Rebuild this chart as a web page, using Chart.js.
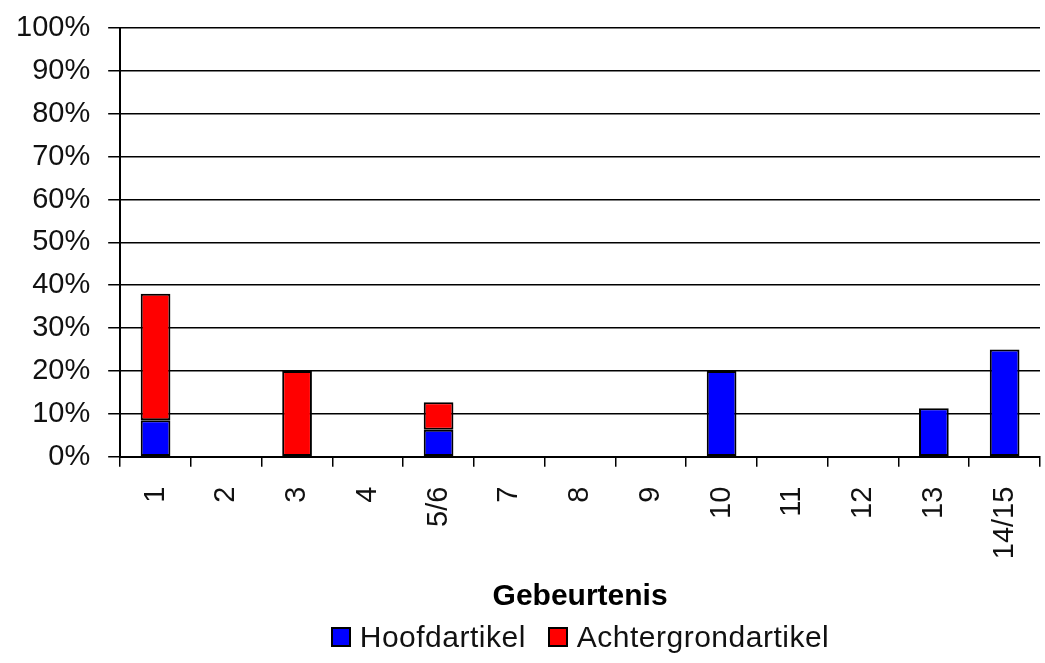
<!DOCTYPE html>
<html>
<head>
<meta charset="utf-8">
<script src="https://cdn.jsdelivr.net/npm/chart.js"></script>
<style>
  html, body { margin: 0; padding: 0; background: #fff; }
  .wrap { position: relative; width: 1045px; height: 663px; }
  #legend {
    position: absolute; left: 120px; width: 920px; top: 620px;
    display: flex; justify-content: center; align-items: center;
    font-family: "Liberation Sans", Arial, sans-serif; font-size: 30px; color: #111;
    letter-spacing: 0.5px;
  }
  #legend span.item { display: flex; align-items: center; margin: 0 11px; }
  #legend span.box { width: 16px; height: 16px; border: 2px solid #000; margin-right: 9px; }
</style>
</head>
<body>
<div class="wrap">
  <canvas id="chart" width="1045" height="663"></canvas>
  <div id="legend"></div>
</div>
<script>
const categories = ['1', '2', '3', '4', '5/6', '7', '8', '9', '10', '11', '12', '13', '14/15'];
const hoofdartikel = [8.5, null, null, null, 6.3, null, null, null, 20, null, null, 11.3, 25];
const achtergrondartikel = [29.5, null, 20, null, 6.4, null, null, null, null, null, null, null, null];
const seriesNames = ['Hoofdartikel', 'Achtergrondartikel'];
const seriesColors = ['#0000ff', '#ff0000'];

const font = "'Liberation Sans', Arial, sans-serif";

const ctx = document.getElementById('chart').getContext('2d');
const chart = new Chart(ctx, {
  type: 'bar',
  data: {
    labels: categories,
    datasets: [
      {
        label: seriesNames[0],
        data: hoofdartikel,
        backgroundColor: seriesColors[0],
        borderColor: '#000',
        borderWidth: 2,
        borderSkipped: false,
        barPercentage: 0.42,
        categoryPercentage: 1,
      },
      {
        label: seriesNames[1],
        data: achtergrondartikel,
        backgroundColor: seriesColors[1],
        borderColor: '#000',
        borderWidth: 2,
        borderSkipped: false,
        barPercentage: 0.42,
        categoryPercentage: 1,
      },
    ],
  },
  options: {
    responsive: false,
    animation: false,
    layout: {
      padding: { left: -2, right: 5, top: 0, bottom: 49 },
    },
    scales: {
      x: {
        stacked: true,
        grid: {
          offset: true,
          drawOnChartArea: false,
          color: '#000',
          lineWidth: 1.5,
          tickLength: 10,
        },
        border: { color: '#000', width: 2 },
        ticks: {
          minRotation: 90,
          maxRotation: 90,
          padding: 20,
          color: '#111',
          font: { family: font, size: 29, lineHeight: 0.6 },
        },
        title: {
          display: true,
          text: 'Gebeurtenis',
          color: '#000',
          padding: { top: 0, bottom: 0 },
          font: { family: font, size: 30, weight: 'bold', lineHeight: 1.16 },
        },
      },
      y: {
        stacked: true,
        min: 0,
        max: 100,
        ticks: {
          stepSize: 10,
          padding: 18,
          color: '#111',
          font: { family: font, size: 29, lineHeight: 0.7 },
          callback: (v) => v + '%',
        },
        grid: {
          color: '#000',
          lineWidth: 1.5,
          tickLength: 12,
        },
        border: { color: '#000', width: 2 },
      },
    },
    plugins: {
      legend: { display: false },
      tooltip: { enabled: false },
    },
  },
});

const legend = document.getElementById('legend');
chart.data.datasets.forEach((ds) => {
  const item = document.createElement('span');
  item.className = 'item';
  const box = document.createElement('span');
  box.className = 'box';
  box.style.background = ds.backgroundColor;
  const txt = document.createElement('span');
  txt.textContent = ds.label;
  item.appendChild(box);
  item.appendChild(txt);
  legend.appendChild(item);
});
</script>
</body>
</html>
